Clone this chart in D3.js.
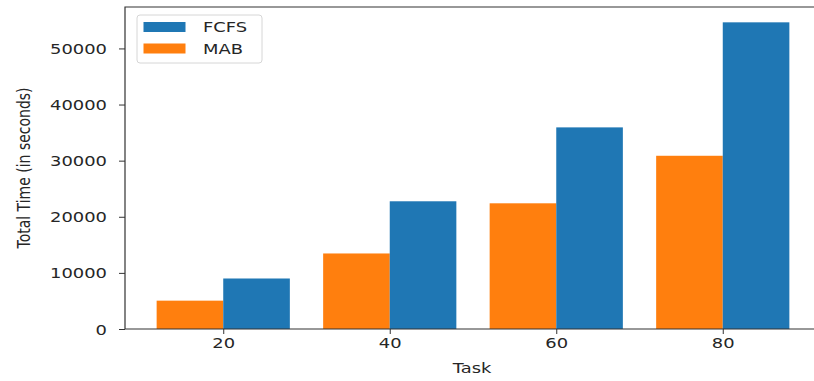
<!DOCTYPE html>
<html>
<head>
<meta charset="utf-8">
<script src="https://cdn.jsdelivr.net/npm/d3@7"></script>
<style>
  html, body { margin: 0; padding: 0; background: #fff; }
  svg { display: block; }
  text { font-family: "DejaVu Sans", sans-serif; fill: #262626; }
</style>
</head>
<body>
<svg id="chart" width="814" height="381"></svg>
<script>
// Total time per task count, for each scheduling strategy
const tasks = [20, 40, 60, 80];
const fcfs = [9000, 22760, 35930, 54650];
const mab = [5050, 13460, 22400, 30870];
const yTicks = [0, 10000, 20000, 30000, 40000, 50000];
const seriesNames = ["FCFS", "MAB"];
const seriesColors = ["#1f77b4", "#ff7f0e"];
const barWidth = 8;

const svg = d3.select("#chart");
const plot = { left: 125, right: 821, top: 7, bottom: 329 };
const sx = 1.28; // horizontal glyph stretch

const x = d3.scaleLinear()
  .domain([tasks[0] - barWidth - 3.8, tasks[tasks.length - 1] + barWidth + 3.8])
  .range([plot.left, plot.right]);
const y = d3.scaleLinear()
  .domain([0, d3.max(fcfs) * 1.05])
  .range([plot.bottom, plot.top]);

// bars: MAB to the left of each tick, FCFS to the right
const g = svg.append("g");
g.selectAll("rect.mab").data(tasks).join("rect")
  .attr("class", "mab")
  .attr("x", d => x(d - barWidth))
  .attr("width", d => x(d) - x(d - barWidth))
  .attr("y", (d, i) => y(mab[i]))
  .attr("height", (d, i) => y(0) - y(mab[i]))
  .attr("fill", seriesColors[1]);
g.selectAll("rect.fcfs").data(tasks).join("rect")
  .attr("class", "fcfs")
  .attr("x", d => x(d))
  .attr("width", d => x(d + barWidth) - x(d))
  .attr("y", (d, i) => y(fcfs[i]))
  .attr("height", (d, i) => y(0) - y(fcfs[i]))
  .attr("fill", seriesColors[0]);

// axes
const xAxis = svg.append("g")
  .attr("transform", `translate(0,${plot.bottom})`)
  .call(d3.axisBottom(x).tickValues(tasks).tickFormat(d3.format("d")).tickSize(5).tickPadding(4));
const yAxis = svg.append("g")
  .attr("transform", `translate(${plot.left},0)`)
  .call(d3.axisLeft(y).tickValues(yTicks).tickFormat(d3.format("d")).tickSize(6).tickPadding(0));

[xAxis, yAxis].forEach(a => {
  a.select(".domain").remove();
  a.selectAll(".tick line").attr("stroke", "#333").attr("stroke-width", 1);
  a.selectAll(".tick text").attr("font-size", 14).attr("font-family", "DejaVu Sans").attr("fill", "#262626");
});
xAxis.selectAll(".tick text").attr("transform", `scale(${sx},1)`).attr("dy", "0.72em");
yAxis.selectAll(".tick text").attr("x", -18 / sx).attr("dy", "0.36em")
  .attr("transform", `scale(${sx},1)`);

// spines (right spine lies past the visible edge)
svg.append("path")
  .attr("d", `M${plot.left},${plot.bottom}H${plot.right}M${plot.left},${plot.bottom}V${plot.top}H${plot.right}`)
  .attr("fill", "none").attr("stroke", "#333").attr("stroke-width", 1.2);

// axis titles
svg.append("text")
  .attr("transform", `translate(${(plot.left + 821) / 2 - 0},373) scale(${sx},1)`)
  .attr("x", (472 - (plot.left + 821) / 2) / sx)
  .attr("text-anchor", "middle").attr("font-size", 14)
  .text("Task");
svg.append("text")
  .attr("transform", `translate(30,${(plot.top + plot.bottom) / 2}) scale(${sx},1) rotate(-90)`)
  .attr("text-anchor", "middle").attr("font-size", 14)
  .text("Total Time (in seconds)");

// legend
const legend = svg.append("g").attr("transform", "translate(137,15)");
legend.append("rect")
  .attr("width", 125).attr("height", 48).attr("rx", 3)
  .attr("fill", "#fff").attr("fill-opacity", 0.8)
  .attr("stroke", "#d6d6d6").attr("stroke-width", 1);
seriesNames.forEach((name, i) => {
  const row = legend.append("g").attr("transform", `translate(0,${7 + i * 21.5})`);
  row.append("rect").attr("x", 6.5).attr("width", 42).attr("height", 10).attr("fill", seriesColors[i]);
  row.append("text")
    .attr("transform", `translate(66,10) scale(${sx},1)`)
    .attr("font-size", 14)
    .text(name);
});
</script>
</body>
</html>
